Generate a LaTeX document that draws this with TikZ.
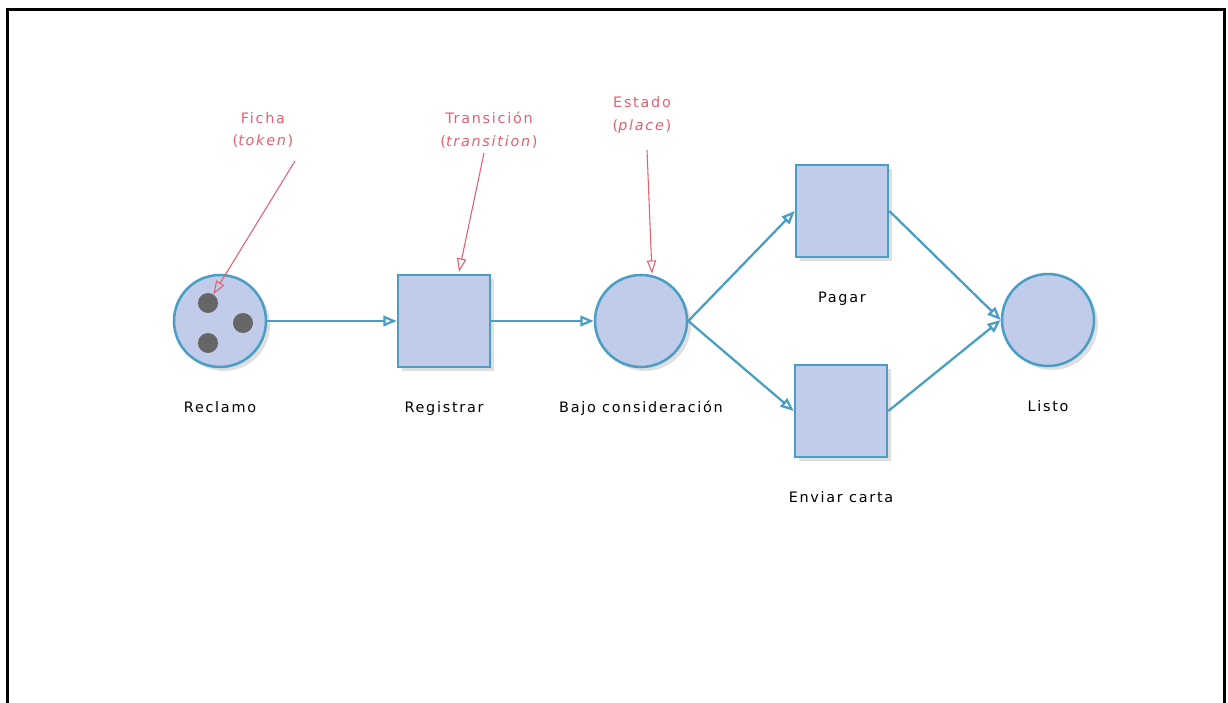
\documentclass[tikz,border=0pt]{standalone}
\usepackage{fontspec}
\setmainfont{DejaVu Sans}
\newfontfamily\netfont[LetterSpace=12]{DejaVu Sans}
\usetikzlibrary{arrows.meta,positioning,calc,shadows}

\definecolor{placefill}{RGB}{192,204,234}
\definecolor{netline}{RGB}{74,158,196}
\definecolor{tokengray}{RGB}{102,102,102}
\definecolor{annored}{RGB}{226,96,112}

\begin{document}
\begin{tikzpicture}[
    x=0.75pt, y=-0.75pt,
    font=\netfont\fontsize{10.8}{17}\selectfont,
    place/.style={
        circle,
        draw=netline,
        line width=1.9pt,
        fill=placefill,
        minimum size=69pt,
        inner sep=0pt,
        drop shadow={shadow xshift=3pt, shadow yshift=-3pt, opacity=0.25}
    },
    trans/.style={
        rectangle,
        draw=netline,
        line width=1.9pt,
        fill=placefill,
        minimum size=69pt,
        inner sep=0pt,
        drop shadow={shadow xshift=3pt, shadow yshift=-3pt, opacity=0.25}
    },
    token/.style={
        circle,
        fill=tokengray,
        minimum size=15pt,
        inner sep=0pt
    },
    netlabel/.style={
        inner sep=0pt,
        text height=8pt,
        text depth=2pt
    },
    note/.style={
        text=annored,
        align=center,
        inner sep=0pt
    },
    flow/.style={-{Triangle[open, length=10pt, width=8pt]}, draw=netline, line width=1.7pt},
    pointer/.style={-{Triangle[open, length=10pt, width=7pt]}, draw=annored, line width=0.8pt}
]

\useasboundingbox (0,0) rectangle (1228,703);

% marco
\draw[line width=2.4pt] (7.5,703) -- (7.5,9.5) -- (1224.5,9.5) -- (1224.5,703);

% =========================================================
% ESTADOS Y TRANSICIONES
% =========================================================

\node[place] (reclamo) at (220,321) {};
\node[token] (tok1) at (208,303) {};
\node[token] (tok2) at (243,323) {};
\node[token] (tok3) at (208,343) {};

\node[trans] (registrar) at (444,321) {};

\node[place] (bajo) at (641,321) {};

\node[trans] (pagar) at (842,211) {};
\node[trans] (enviar) at (841,411) {};

\node[place] (listo) at (1048,320) {};

% nombres
\node[netlabel, below=25pt of reclamo] (reclamolbl) {Reclamo};
\node[netlabel, below=25pt of registrar] (registrarlbl) {Registrar};
\node[netlabel, below=25pt of bajo] (bajolbl) {Bajo consideración};
\node[netlabel, below=25pt of pagar] (pagarlbl) {Pagar};
\node[netlabel, below=25pt of enviar] (enviarlbl) {Enviar carta};
\node[netlabel, below=25pt of listo] (listolbl) {Listo};

% =========================================================
% ANOTACIONES
% =========================================================

\node[note] (fichalbl) at (263,130) {Ficha\\(\textit{token})};
\node[note] (translbl) at (489,130) {Transición\\(\textit{transition})};
\node[note] (estadolbl) at (642,115) {Estado\\(\textit{place})};

\coordinate (fichastart) at (295,161);
\coordinate (transstart) at (484,153);
\coordinate (estadostart) at (647,150);

\draw[pointer] (fichastart) -- (tok1);
\draw[pointer] (transstart) -- ($(registrar.north)+(15,-2)$);
\draw[pointer] (estadostart) -- ($(bajo.north)+(11,0)$);

% =========================================================
% ARCOS
% =========================================================

\draw[flow] (reclamo.east) -- (registrar.west);
\draw[flow] (registrar.east) -- (bajo.west);
\draw[flow] (bajo.east) -- (pagar.west);
\draw[flow] (bajo.east) -- (enviar.west);
\draw[flow] (pagar.east) -- (listo.west);
\draw[flow] (enviar.east) -- (listo.west);

\end{tikzpicture}
\end{document}
